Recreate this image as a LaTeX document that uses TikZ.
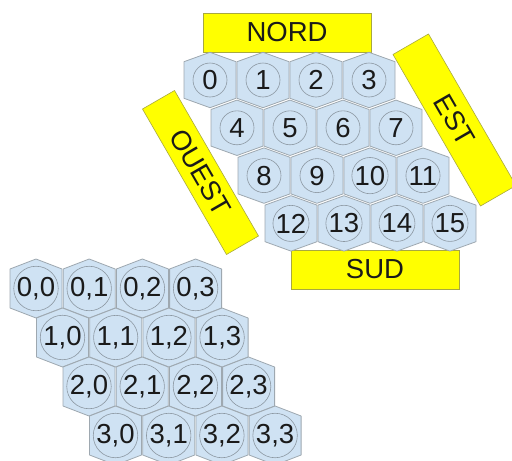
\documentclass[tikz,border=0pt]{standalone}
\usepackage{fontspec}
\setmainfont{Liberation Sans}
\definecolor{hexblue}{HTML}{CFE2F3}
\definecolor{hexedge}{HTML}{9EA8B0}
\definecolor{ringedge}{HTML}{8C98A2}
\definecolor{ink}{HTML}{1A1A1A}
\definecolor{tagyellow}{HTML}{FFFF00}
\definecolor{tagedge}{HTML}{A8A840}
\tikzset{
  hexcell/.style={fill=hexblue, draw=hexedge, line width=0.8pt, line join=round},
  ring/.style={circle, draw=ringedge, line width=0.6pt, fill=hexblue,
    minimum size=34pt, inner sep=0pt, text=ink,
    font=\fontsize{27.5}{32}\selectfont},
  tag/.style={rectangle, fill=tagyellow, draw=tagedge, line width=0.6pt,
    inner sep=0pt, text=ink, font=\fontsize{27.5}{32}\selectfont}
}
\begin{document}
\begin{tikzpicture}[x=1pt,y=-1pt]
\useasboundingbox (0,0) rectangle (512,461);
\clip (0,0) rectangle (512,461);

% direction labels
\node[tag, minimum width=168pt, minimum height=39pt] (nord) at (287,32.5) {NORD};
\node[tag, minimum width=168pt, minimum height=39pt] (sud) at (375,269.5) {SUD};
\node[tag, minimum width=175pt, minimum height=41pt, rotate=-60] (est) at (454.5,120) {EST};
\node[tag, minimum width=168pt, minimum height=37pt, rotate=-60] (ouest) at (200.5,172.5) {OUEST};

% numbered board 0..15
\foreach \r in {0,...,3} {
  \foreach \c in {0,...,3} {
    \pgfmathsetmacro\hx{210+53*\c+27*\r}
    \pgfmathsetmacro\hy{80+47.8*\r}
    \pgfmathtruncatemacro\n{4*\r+\c}
    \draw[hexcell] (\hx,\hy) ++(0,-27.7) -- ++(26,9.4) -- ++(0,36.6)
      -- ++(-26,9.4) -- ++(-26,-9.4) -- ++(0,-36.6) -- cycle;
    \node[ring] (t\n) at (\hx,\hy) {\n};
  }
}

% board with row,column coordinates
\foreach \r in {0,...,3} {
  \foreach \c in {0,...,3} {
    \pgfmathsetmacro\hx{36+53.2*\c+26.5*\r}
    \pgfmathsetmacro\hy{288.5+49*\r}
    \draw[hexcell] (\hx,\hy) ++(0,-29.5) -- ++(26,10) -- ++(0,39)
      -- ++(-26,10) -- ++(-26,-10) -- ++(0,-39) -- cycle;
    \node[ring, minimum size=33pt] (b\r\c) at (\hx,\hy) {\r,\c};
  }
}
\end{tikzpicture}
\end{document}
